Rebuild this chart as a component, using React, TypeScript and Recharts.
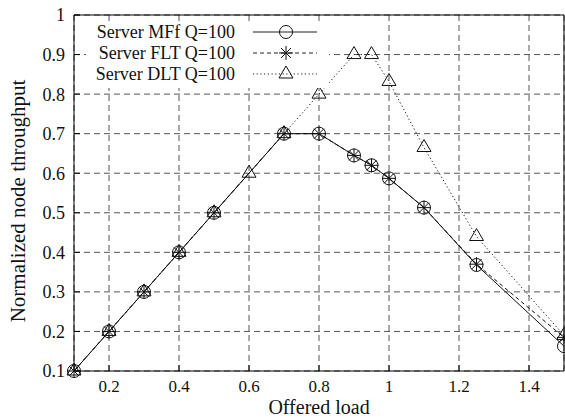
import { LineChart, Line, XAxis, YAxis, CartesianGrid, Legend } from "recharts";

const FONT = "'Liberation Serif', 'Times New Roman', serif";

// offered load values (x)
const LOADS = [0.1, 0.2, 0.3, 0.4, 0.5, 0.6, 0.7, 0.8, 0.9, 0.95, 1.0, 1.1, 1.25, 1.5];

// normalized node throughput per server type (null = no sample at that load)
const MFF = [0.1, 0.2, 0.3, 0.4, 0.5, null, 0.7, 0.7, 0.645, 0.62, 0.587, 0.513, 0.368, 0.163];
const FLT = [0.1, 0.2, 0.3, 0.4, 0.5, null, 0.7, 0.7, 0.645, 0.62, 0.587, 0.513, 0.37, 0.185];
const DLT = [0.1, 0.2, 0.3, 0.4, 0.5, 0.6, 0.7, 0.8, 0.9, 0.9, 0.832, 0.665, 0.44, 0.19];

const X_TICKS = [0.2, 0.4, 0.6, 0.8, 1, 1.2, 1.4];
const Y_TICKS = [0.1, 0.2, 0.3, 0.4, 0.5, 0.6, 0.7, 0.8, 0.9, 1];

const SERIES = [
  { key: "mff", name: "Server MFf Q=100", dash: undefined, marker: "circle" },
  { key: "flt", name: "Server FLT Q=100", dash: "4 3", marker: "star" },
  { key: "dlt", name: "Server DLT Q=100", dash: "1.2 2.5", marker: "triangle" },
];

const rows = LOADS.map((load, i) => ({ load, mff: MFF[i], flt: FLT[i], dlt: DLT[i] }));

const fmt = (v: number) => (Number.isInteger(v) ? String(v) : v.toFixed(1));

function Marker({ kind, cx, cy }: { kind: string; cx?: number; cy?: number }) {
  if (cx == null || cy == null || isNaN(cx) || isNaN(cy)) return null;
  if (kind === "circle") {
    return <circle cx={cx} cy={cy} r={6.5} fill="none" stroke="#111" strokeWidth={1} />;
  }
  if (kind === "star") {
    const s = 7;
    const d = 5;
    return (
      <g stroke="#111" strokeWidth={1}>
        <line x1={cx} y1={cy - s} x2={cx} y2={cy + s} />
        <line x1={cx - s} y1={cy} x2={cx + s} y2={cy} />
        <line x1={cx - d} y1={cy - d} x2={cx + d} y2={cy + d} />
        <line x1={cx - d} y1={cy + d} x2={cx + d} y2={cy - d} />
      </g>
    );
  }
  return (
    <polygon
      points={`${cx},${cy - 8} ${cx - 7},${cy + 4} ${cx + 7},${cy + 4}`}
      fill="none"
      stroke="#111"
      strokeWidth={1}
    />
  );
}

function LegendBox() {
  return (
    <svg width={243} height={67} style={{ display: "block" }}>
      {SERIES.map((s, i) => {
        const y = 11 + i * 21;
        return (
          <g key={s.key}>
            <text
              x={149}
              y={y}
              dy="0.35em"
              textAnchor="end"
              fontSize={18}
              fontFamily={FONT}
              fill="#111"
            >
              {s.name}
            </text>
            <line x1={167} y1={y} x2={231} y2={y} stroke="#222" strokeWidth={1} strokeDasharray={s.dash} />
            <Marker kind={s.marker} cx={200} cy={y} />
          </g>
        );
      })}
    </svg>
  );
}

function YLabel(props: any) {
  const vb = props.viewBox || {};
  const cx = 18;
  const cy = (vb.y ?? 15) + (vb.height ?? 356) / 2 + 8;
  return (
    <text
      x={cx}
      y={cy}
      transform={`rotate(-90 ${cx} ${cy})`}
      textAnchor="middle"
      dy="0.35em"
      fontSize={21}
      fontFamily={FONT}
      fill="#111"
    >
      Normalized node throughput
    </text>
  );
}

export default function App() {
  return (
    <div style={{ position: "absolute", left: 0, top: 0, background: "#fff" }}>
      <LineChart
        width={565}
        height={419}
        data={rows}
        margin={{ top: 14, right: 0, bottom: 0, left: 0 }}
        style={{ fontFamily: FONT }}
      >
        <CartesianGrid stroke="#555" strokeDasharray="6 4" strokeWidth={1} />
        <XAxis
          dataKey="load"
          type="number"
          domain={[0.1, 1.5]}
          ticks={X_TICKS}
          tickFormatter={fmt}
          height={48}
          stroke="#000"
          tickSize={-6}
          tickMargin={15}
          tick={{ fontSize: 17, fill: "#111", fontFamily: FONT }}
          label={{ value: "Offered load", position: "insideBottom", offset: 5, fontSize: 20, fill: "#111", fontFamily: FONT }}
        />
        <XAxis
          xAxisId="top"
          dataKey="load"
          type="number"
          orientation="top"
          domain={[0.1, 1.5]}
          ticks={X_TICKS}
          height={1}
          stroke="#000"
          tickSize={-6}
          tick={false}
        />
        <YAxis
          type="number"
          domain={[0.1, 1]}
          ticks={Y_TICKS}
          tickFormatter={fmt}
          width={74}
          stroke="#000"
          tickSize={-6}
          tickMargin={15}
          tick={{ fontSize: 18, fill: "#111", fontFamily: FONT }}
          label={<YLabel />}
        />
        <YAxis
          yAxisId="right"
          type="number"
          orientation="right"
          domain={[0.1, 1]}
          ticks={Y_TICKS}
          width={1}
          stroke="#000"
          tickSize={-6}
          tick={false}
        />
        {SERIES.map((s) => (
          <Line
            key={s.key}
            dataKey={s.key}
            name={s.name}
            type="linear"
            stroke="#111"
            strokeWidth={1}
            strokeDasharray={s.dash}
            connectNulls
            isAnimationActive={false}
            activeDot={false}
            dot={(p: any) => (
              <g key={`${s.key}-${p.index}`}>
                <Marker kind={s.marker} cx={p.cx} cy={p.value == null ? undefined : p.cy} />
              </g>
            )}
          />
        ))}
        <Legend
          layout="vertical"
          verticalAlign="middle"
          align="center"
          wrapperStyle={{ left: 86, top: 21, width: 243, height: 67, background: "#fff" }}
          content={() => <LegendBox />}
        />
      </LineChart>
    </div>
  );
}
